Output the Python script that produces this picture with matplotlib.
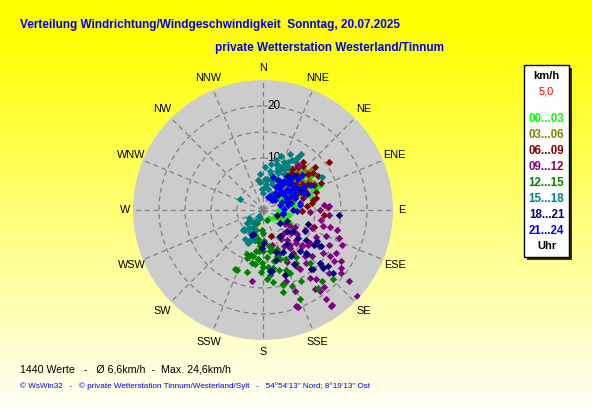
import numpy as np
import matplotlib
matplotlib.use("Agg")
import matplotlib.pyplot as plt
import matplotlib.patches as patches
from matplotlib import font_manager

# direction labels
richtungen = ["N", "NNE", "NE", "ENE", "E", "ESE", "SE", "SSE",
              "S", "SSW", "SW", "WSW", "W", "WNW", "NW", "NNW"]

# time bins, colours of the legend
zeit_labels = ["00...03", "03...06", "06...09", "09...12",
               "12...15", "15...18", "18...21", "21...24"]
zeit_farben = ["#00ff00", "#808000", "#800000", "#800080",
               "#008000", "#008080", "#000080", "#0000ff"]

# wind direction (deg) and speed (km/h) per time bin
dir_00 = [45, 50, 55, 40, 60, 69, 35, 48, 52, 65, 58, 42, 30, 75, 62, 47, 55, 38, 70, 50,
          80, 90, 100, 120, 60, 44, 33, 66, 53, 57, 116, 110,
          28, 36, 43, 49, 56, 63, 72, 85, 95, 105, 130, 150, 41, 54, 67, 46, 59, 37, 74, 51]
spd_00 = [6, 7, 8, 5, 9, 10.8, 7, 9, 4, 7, 6, 8, 5, 6, 10, 3, 11, 9, 8, 10,
          4, 3, 5, 4, 4, 11, 8, 12, 5, 9.5, 5.7, 4,
          3, 4, 6, 8, 7, 9, 5, 6, 4, 3, 2.5, 2, 10, 12, 11, 7.5, 8.5, 6.5, 9.5, 5.5]

dir_03 = [50, 57, 45, 40, 55, 48, 60, 35, 52, 42, 65, 30, 116, 70, 46, 58, 38, 62, 50, 44,
          36, 47, 53, 61, 68, 43, 55, 49, 39, 64]
spd_03 = [9.3, 10.6, 8, 7, 7, 6, 9, 9, 11, 10, 8, 6, 3, 6, 5, 8, 8, 11, 12, 9,
          10, 11, 7.5, 10, 9, 6.5, 9.5, 8, 5, 7]

dir_06 = [54, 95, 87, 108, 164, 51, 54, 65.5, 44, 38, 71, 79, 92, 35, 39, 77, 82, 60, 62, 48,
          56, 45, 68, 58, 50, 42, 73, 64, 85, 40, 66, 52]
spd_06 = [15.8, 11.7, 12.6, 10.4, 5.3, 11.1, 12, 12.3, 9.3, 8.9, 10.8, 9.7, 7.6, 9.7, 10.6,
          10.5, 9.6, 10, 8, 10, 9, 7, 9, 12.5, 13, 11.5, 8, 11, 8.5, 12, 7, 8]

dir_09 = [104.7, 104, 105, 110, 114, 120.5, 124.8, 125.7, 123.3, 133.5, 133.4, 126.5, 128.9,
          129.5, 132.4, 141.6, 145, 144.7, 144, 147, 158.6, 160.2, 161.8, 188.9, 142.5, 145.3,
          148.3, 140.7, 133.1, 122.7, 125, 133.4, 131.7, 145, 141.7, 116.6, 112.8, 117.6, 125.7,
          160.8, 144.6, 86.6, 92, 38, 85.4, 90, 94.3, 99.6,
          120, 130, 140, 150, 135, 125, 145, 155, 115, 128, 138, 150, 160, 118, 142, 132,
          165, 110, 148, 122]
spd_09 = [12.0, 13.2, 14.8, 15.6, 16.6, 16.3, 15.6, 16.9, 17.9, 15.7, 17.6, 18.7, 19.2,
          21.5, 24.5, 19.0, 19.0, 21.0, 22.6, 18.2, 16.7, 19.8, 14.4, 13.9, 16.8, 15.8,
          13.4, 13.1, 13.0, 12.9, 11.0, 10.2, 8.6, 8.9, 7.3, 11.4, 13.1, 14.4, 14.2,
          19.5, 22.6, 12.8, 9, 10.9, 11.8, 10.9, 12.7, 11.4,
          6, 7, 6, 8, 9, 8, 10, 11, 9, 11, 12, 12.5, 9, 7, 8.5, 10,
          7, 10, 6.5, 5]

dir_12 = [203.7, 194.6, 198.6, 191.9, 192, 185.4, 181.4, 177, 174, 170,
          164.7, 159.4, 151.6, 166.3, 157.6, 157, 144.8, 140, 134.8, 161,
          179.6, 167.8, 190, 180, 202.6, 163.7, 154.7, 147.8, 138.4, 158.5,
          183, 205, 197, 188.5, 160, 205, 185, 175, 170, 190, 180, 165, 195, 200, 172, 168,
          178, 188, 160, 182, 155,
          150, 160, 170, 175, 185, 190, 200, 210, 215, 195, 165, 145]
spd_12 = [12.5, 12.3, 9.7, 9.0, 10.4, 9.5, 10.2, 13.3, 12.5, 11.3,
          14.8, 15.6, 15.5, 16.3, 18.5, 13.1, 18.3, 17.8, 18.9, 10.0,
          7.9, 7.8, 5.7, 4.4, 6.5, 9.3, 10.5, 12.0, 13.6, 12.3,
          3.8, 2.8, 5, 6.1, 2.0, 12.6, 7, 9, 8, 8, 11, 12, 6, 9, 14, 10,
          6, 10.5, 13, 12, 9,
          6, 8, 7, 11, 8, 6, 4, 4, 3, 9, 15, 11]

dir_15 = [33.4, 33, 32.7, 27.6, 22.8, 23.3, 22.5, 21, 18, 14,
          1, 29, 2.7, 353.7, 296.6, 16.3, 9.8, 17.4, 60.7, 224.6,
          203.7, 210, 215, 224, 212, 200, 225, 201.7, 201, 228,
          222, 199, 209.6, 351, 16.8, 25, 20, 12, 8, 5, 30, 15,
          10, 14, 18, 20, 24, 26, 28, 30, 31, 34, 6, 3, 357, 355, 240, 230, 218, 212, 205, 196]
spd_15 = [12.2, 11.9, 11.3, 10.4, 8.3, 9.0, 7.6, 6.4, 5.35, 4.2,
          3.2, 3.6, 8.3, 5.4, 4.9, 9.3, 7.7, 6.65, 13.1, 5.35,
          6.2, 3.7, 1.4, 3.1, 2.3, 1.6, 5.3, 5.8, 4.1, 3.3,
          5.1, 5.7, 5.1, 5.8, 9.0, 10, 8.5, 7, 6, 4.5, 9.5, 6,
          9, 10, 11, 8, 10, 12, 9, 11, 8, 13, 5, 6, 4, 7, 3, 4, 4.5, 6.5, 7, 6]

dir_18 = [202, 162, 134.8, 135, 133, 134, 131, 132, 140.8, 173.7,
          161.3, 148.3, 138.3, 124.5, 129, 148, 132, 117, 124, 122,
          181, 179, 93.7, 172, 204, 139.7, 128, 27, 40.4, 110, 90, 60, 50, 70, 45,
          35, 42, 55, 65, 75, 100, 115, 125, 145, 155, 165, 120, 108, 150]
spd_18 = [4.9, 8.4, 11.7, 12.1, 14.9, 16.0, 16.5, 18.0, 14.7, 11.8,
          13.1, 10.4, 10.6, 10.1, 8.6, 6.0, 6.1, 9.0, 11.9, 13.2,
          7.3, 6.3, 14.7, 11.9, 5.2, 14.8, 4.1, 6.4, 7.1, 2.8, 5.8, 8, 6, 9, 4,
          8, 9, 7, 8, 5, 4, 5, 7, 8, 9, 10, 12, 9, 12]

dir_21 = [17, 33, 50.6, 43, 55.6, 48, 48, 68, 76.7, 41, 99, 22, 71, 70, 62.6, 29.4, 59,
          79.6, 82, 91, 40, 52, 60, 35, 45, 65,
          25, 30, 38, 44, 50, 56, 62, 70, 78, 86, 36, 46, 54, 64, 32, 42, 58, 66, 74, 48]
spd_21 = [6.65, 5.3, 5.0, 7.0, 7.8, 9.0, 10.0, 8.6, 5.6, 2.6, 3.9, 2.7, 4.8, 6.5, 10.4,
          6.5, 6.7, 7.2, 7.1, 6.5, 8, 6, 9, 4, 3, 5,
          3, 5, 6, 5, 6, 6.5, 7, 6.5, 5, 4, 7, 7.5, 7, 6, 6, 8, 5, 4, 3.5, 3]

gruppen = [(dir_00, spd_00), (dir_03, spd_03), (dir_06, spd_06), (dir_09, spd_09),
           (dir_12, spd_12), (dir_15, spd_15), (dir_18, spd_18), (dir_21, spd_21)]

ringe = [5, 10, 15, 20]
ring_labels = [10, 20]
r_max = 25

W, H = 592, 407


def fx(px):
    return px / W


def fy(py):
    return 1 - py / H


def pick_font(name, fallback="DejaVu Sans"):
    names = {f.name for f in font_manager.fontManager.ttflist}
    return name if name in names else fallback


narrow = pick_font("Liberation Sans Narrow", "Liberation Sans")
sans = pick_font("Liberation Sans")

fig = plt.figure(figsize=(W / 100, H / 100), dpi=100)

# yellow -> whitish background gradient
bg = fig.add_axes([0, 0, 1, 1])
grad = np.linspace(0, 1, 256).reshape(-1, 1)
cols = np.zeros((256, 1, 3))
cols[:, :, 0] = 1.0
cols[:, :, 1] = 1.0
cols[:, :, 2] = np.clip((grad - 0.08) / 0.92, 0, 1) * 0.96
bg.imshow(cols, aspect="auto", extent=[0, 1, 0, 1])
bg.set_axis_off()

# polar plot, centre (263, 210), radius 130 px
cx, cy, rad = 263, 210, 130
ax = fig.add_axes([fx(cx - rad), fy(cy + rad), 2 * rad / W, 2 * rad / H], projection="polar")
ax.set_theta_zero_location("N")
ax.set_theta_direction(-1)
ax.set_ylim(0, r_max)
ax.set_facecolor("#cccccc")
ax.grid(False)
ax.set_xticks([])
ax.set_yticks([])
ax.spines["polar"].set_visible(False)

t = np.linspace(0, 2 * np.pi, 300)
for r in ringe:
    ax.plot(t, np.full_like(t, r), color="#808080", lw=0.9, ls=(0, (4, 3)), zorder=1)
for i in range(16):
    a = np.radians(i * 22.5)
    ax.plot([a, a], [0, r_max], color="#808080", lw=0.9, ls=(0, (4, 3)), zorder=1)

for r in ring_labels:
    ax.annotate(str(r), (0, r), xytext=(3, 0), textcoords="offset points",
                ha="left", va="center", fontsize=8.5, family=sans, color="black", zorder=2)

for i, lab in enumerate(richtungen):
    a = np.radians(i * 22.5)
    rr = 26.6 if lab in ("E", "W") else 27.4
    ax.text(a, rr, lab, ha="center", va="center", fontsize=7.8, family=sans,
            color="black", clip_on=False)

for (d, s), c in zip(gruppen, zeit_farben):
    ax.scatter(np.radians(d), s, marker="D", s=14, color=c, linewidths=0, zorder=3)

# titles
fig.text(fx(20), fy(25), "Verteilung Windrichtung/Windgeschwindigkeit  Sonntag, 20.07.2025",
         color="#0000ee", fontsize=8.5, fontweight="bold", family=narrow, va="center", ha="left")
fig.text(fx(215), fy(48), "private Wetterstation Westerland/Tinnum",
         color="#0000ee", fontsize=8.5, fontweight="bold", family=narrow, va="center", ha="left")

# legend box with shadow
bx0, by0, bx1, by1 = 524, 65, 569, 257
fig.patches.append(patches.Rectangle((fx(bx0 + 3), fy(by1 + 3)), (bx1 - bx0) / W, (by1 - by0) / H,
                                     transform=fig.transFigure, facecolor="#303030",
                                     edgecolor="none", zorder=5))
fig.patches.append(patches.Rectangle((fx(bx0), fy(by1)), (bx1 - bx0) / W, (by1 - by0) / H,
                                     transform=fig.transFigure, facecolor="white",
                                     edgecolor="black", lw=1, zorder=6))
lx = (bx0 + bx1) / 2
fig.text(fx(lx), fy(76), "km/h", ha="center", va="center", fontsize=8, fontweight="bold",
         family=sans, color="black", zorder=7)
fig.text(fx(lx), fy(92), "5,0", ha="center", va="center", fontsize=8,
         family=sans, color="#ff0000", zorder=7)
for k, (lab, c) in enumerate(zip(zeit_labels, zeit_farben)):
    fig.text(fx(lx), fy(118.5 + k * 16.1), lab, ha="center", va="center", fontsize=8.3,
             fontweight="bold", family=sans, color=c, zorder=7)
fig.text(fx(lx), fy(246), "Uhr", ha="center", va="center", fontsize=8, fontweight="bold",
         family=sans, color="black", zorder=7)

# footer
fig.text(fx(20), fy(369), "1440 Werte   -   Ø 6,6km/h  -  Max. 24,6km/h",
         ha="left", va="center", fontsize=7.7, family=sans, color="black")
fig.text(fx(20), fy(386),
         "\u00a9 WsWin32   -   \u00a9 private Wetterstation Tinnum/Westerland/Sylt   -   "
         "54\u00b054'13\" Nord; 8\u00b019'13\" Ost",
         ha="left", va="center", fontsize=5.9, family=sans, color="#0000ee")

fig.savefig("out.png", dpi=100)
